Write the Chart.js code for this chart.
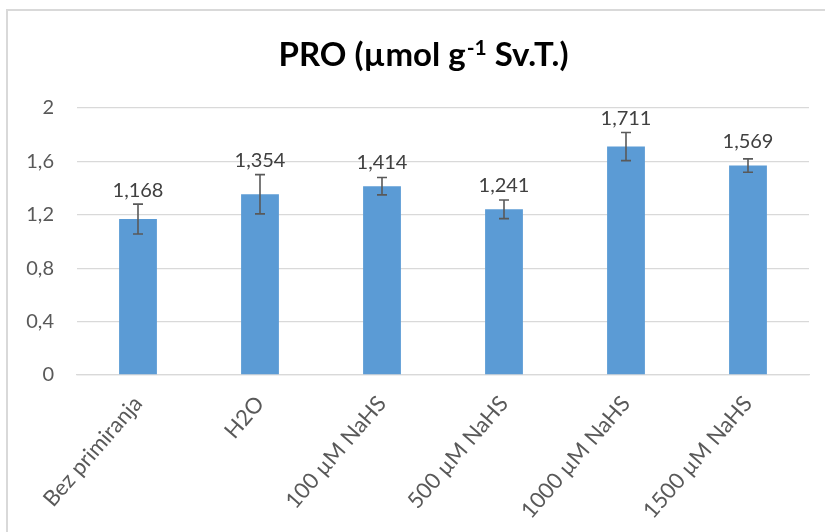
<!DOCTYPE html>
<html>
<head>
<meta charset="utf-8">
<script src="https://cdn.jsdelivr.net/npm/chart.js@4"></script>
<style>
  html, body { margin: 0; padding: 0; background: #fff; }
  #frame { position: absolute; left: 6px; top: 9px; width: 840px; height: 540px; border: 2px solid #d9d9d9; box-sizing: border-box; }
  #wrap { position: absolute; left: 0; top: 0; width: 825px; height: 532px; }
</style>
</head>
<body>
<div id="frame"></div>
<div id="wrap"><canvas id="c"></canvas></div>
<script>
const categories = ['Bez primiranja', 'H2O', '100 µM NaHS', '500 µM NaHS', '1000 µM NaHS', '1500 µM NaHS'];
const values = [1.168, 1.354, 1.414, 1.241, 1.711, 1.569];
const errors = [0.112, 0.147, 0.065, 0.070, 0.105, 0.050];
const valueLabels = ['1,168', '1,354', '1,414', '1,241', '1,711', '1,569'];
const yTickLabels = ['0', '0,4', '0,8', '1,2', '1,6', '2'];
const titleParts = ['PRO (µmol g', '-1', ' Sv.T.)'];

const FONT = 'Lato, Calibri, Carlito, sans-serif';

const titlePlugin = {
  id: 'richTitle',
  afterDraw(chart) {
    const ctx = chart.ctx;
    ctx.save();
    const big = 'bold 33px ' + FONT, small = 'bold 21px ' + FONT;
    ctx.font = big; const w0 = ctx.measureText(titleParts[0]).width;
    const w2 = ctx.measureText(titleParts[2]).width;
    ctx.font = small; const w1 = ctx.measureText(titleParts[1]).width;
    const total = w0 + w1 + w2;
    let x = 423 - total / 2;
    const yBase = 66;
    ctx.fillStyle = '#000000';
    ctx.textAlign = 'left';
    ctx.textBaseline = 'alphabetic';
    ctx.font = big; ctx.fillText(titleParts[0], x, yBase); x += w0;
    ctx.font = small; ctx.fillText(titleParts[1], x + 1, yBase - 11); x += w1 + 1;
    ctx.font = big; ctx.fillText(titleParts[2], x, yBase);
    ctx.restore();
  }
};

const errorBarPlugin = {
  id: 'errorBars',
  afterDatasetsDraw(chart) {
    const ctx = chart.ctx;
    const meta = chart.getDatasetMeta(0);
    const y = chart.scales.y;
    ctx.save();
    meta.data.forEach((bar, i) => {
      const v = values[i], e = errors[i];
      const top = y.getPixelForValue(v + e);
      const bot = y.getPixelForValue(v - e);
      const x = bar.x;
      ctx.strokeStyle = '#595959';
      ctx.lineWidth = 1.6;
      ctx.beginPath();
      ctx.moveTo(x, top); ctx.lineTo(x, bot);
      ctx.moveTo(x - 5, top); ctx.lineTo(x + 5, top);
      ctx.moveTo(x - 5, bot); ctx.lineTo(x + 5, bot);
      ctx.stroke();
      const barTop = y.getPixelForValue(v);
      const ly = Math.min(barTop - 24, top - 14);
      ctx.fillStyle = '#404040';
      ctx.font = '20px ' + FONT;
      ctx.textAlign = 'center';
      ctx.textBaseline = 'middle';
      ctx.fillText(valueLabels[i], x, ly);
    });
    ctx.restore();
  }
};

new Chart(document.getElementById('c'), {
  type: 'bar',
  data: {
    labels: categories,
    datasets: [{
      data: values,
      backgroundColor: '#5b9bd5',
      borderWidth: 0,
      barPercentage: 0.31,
      categoryPercentage: 1
    }]
  },
  options: {
    responsive: true,
    maintainAspectRatio: false,
    animation: false,
    layout: { padding: { left: 0, right: 16, top: 108, bottom: 0 } },
    plugins: {
      legend: { display: false },
      tooltip: { enabled: false },
      title: { display: false }
    },
    scales: {
      y: {
        min: 0, max: 2,
        ticks: {
          stepSize: 0.4,
          padding: 23,
          color: '#595959',
          font: { family: FONT, size: 20 },
          callback: (v, i) => yTickLabels[i]
        },
        grid: { color: '#d9d9d9', lineWidth: 1.3, drawTicks: false },
        border: { display: false },
        afterFit(scale) { scale.width = 77; scale.paddingTop = 0; scale.paddingBottom = 0; }
      },
      x: {
        ticks: {
          minRotation: 49, maxRotation: 49,
          autoSkip: false,
          padding: 8,
          color: '#595959',
          font: { family: FONT, size: 22 }
        },
        grid: { display: false },
        border: { display: true, color: '#d9d9d9', width: 1.3 },
        afterFit(scale) {
          scale.height = 157;
          scale.paddingLeft = 0; scale.paddingRight = 0;
        }
      }
    }
  },
  plugins: [errorBarPlugin, titlePlugin]
});
</script>
</body>
</html>
